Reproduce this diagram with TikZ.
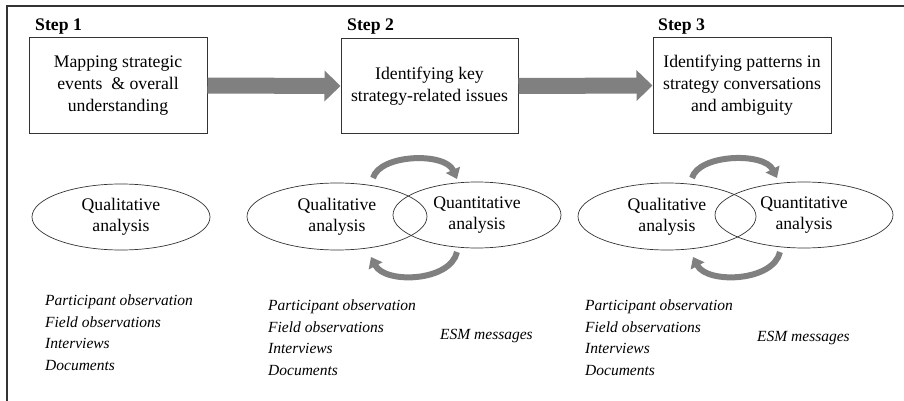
\documentclass[tikz,border=0pt]{standalone}
\usepackage{fontspec}
\setmainfont{LiberationSerif}[Extension=.ttf, UprightFont=*-Regular, BoldFont=*-Bold, ItalicFont=*-Italic, BoldItalicFont=*-BoldItalic]
\usetikzlibrary{shapes.geometric, arrows.meta}

\begin{document}
\begin{tikzpicture}[x=1pt, y=-1pt,
		stepbox/.style={draw=black!80, line width=1pt, minimum width=178pt, minimum height=95pt, inner sep=0pt, align=center, font=\fontsize{17.7}{22}\selectfont},
		stepcap/.style={anchor=base west, inner sep=0pt, font=\bfseries\fontsize{17.7}{22}\selectfont},
		bigarrow/.style={draw=gray, line width=16pt, -{Triangle[length=16pt, width=30pt]}},
		cycarrow/.style={draw=gray, line width=6pt, -{Triangle[length=10pt, width=15pt]}},
		oval/.style={ellipse, draw=black!80, line width=0.7pt, inner sep=0pt, align=center, font=\fontsize{17.7}{21}\selectfont},
		srclist/.style={anchor=north west, inner sep=0pt, align=left, font=\itshape\fontsize{15.5}{21.5}\selectfont},
		esm/.style={anchor=west, inner sep=0pt, font=\itshape\fontsize{15.5}{21.5}\selectfont}]
		\useasboundingbox (0,0) rectangle (904,401);
		\draw[line width=1.5pt, black!80] (7,401) -- (7,6) -- (904,6);

		% steps
		\node[stepcap] (cap1) at (35,31) {Step 1};
		\node[stepcap] (cap2) at (347,31) {Step 2};
		\node[stepcap] (cap3) at (658,31) {Step 3};
		\node[stepbox] (box1) at (118,85.5) {Mapping strategic\\events \ \& overall\\understanding};
		\node[stepbox, minimum width=177pt] (box2) at (429.5,86) {Identifying key\\strategy-related issues};
		\node[stepbox] (box3) at (742,85.5) {Identifying patterns in\\strategy conversations\\and ambiguity};
		\draw[bigarrow] (box1.east) -- (box2.west);
		\draw[bigarrow] (box2.east) -- (box3.west);

		% analyses
		\node[oval, minimum width=178pt, minimum height=66pt] (ql1) at (121,217) {Qualitative\\analysis};
		\node[oval, minimum width=180pt, minimum height=67pt] (ql2) at (337,216.5) {Qualitative\\analysis};
		\node[oval, minimum width=168pt, minimum height=66pt] (qn2) at (477,215) {Quantitative\\analysis};
		\node[oval, minimum width=178pt, minimum height=67pt] (ql3) at (667,216.5) {Qualitative\\analysis};
		\node[oval, minimum width=178pt, minimum height=66pt] (qn3) at (804,215) {Quantitative\\analysis};

		\coordinate (up2a) at (373,178);
		\coordinate (up2b) at (457,179);
		\coordinate (dn2a) at (457,252);
		\coordinate (dn2b) at (371,257);
		\coordinate (up3a) at (692,178);
		\coordinate (up3b) at (777,178);
		\coordinate (dn3a) at (780,252);
		\coordinate (dn3b) at (693,257);
		\draw[cycarrow] (up2a) .. controls (380,154) and (445,152) .. (up2b);
		\draw[cycarrow] (dn2a) .. controls (450,282) and (385,284) .. (dn2b);
		\draw[cycarrow] (up3a) .. controls (699,154) and (764,152) .. (up3b);
		\draw[cycarrow] (dn3a) .. controls (773,282) and (707,284) .. (dn3b);

		% sources
		\node[srclist] (src1) at (45,295) {Participant observation\\Field observations\\Interviews\\Documents};
		\node[srclist] (src2) at (268,300) {Participant observation\\Field observations\\Interviews\\Documents};
		\node[srclist] (src3) at (585,300) {Participant observation\\Field observations\\Interviews\\Documents};
		\node[esm] (esm2) at (440,336) {ESM messages};
		\node[esm] (esm3) at (757,338) {ESM messages};
	\end{tikzpicture}
\end{document}
